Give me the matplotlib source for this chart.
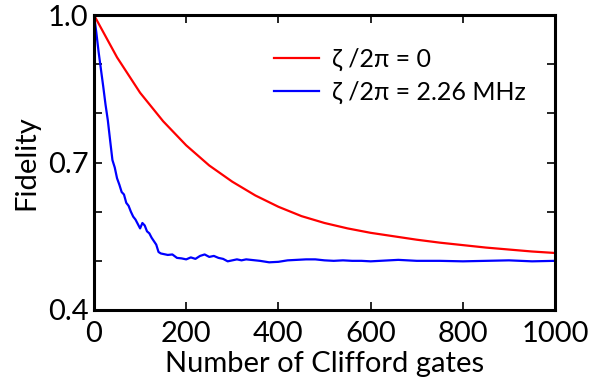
import matplotlib
matplotlib.use("Agg")
import matplotlib.pyplot as plt

plt.rcParams['font.family'] = ['Lato', 'DejaVu Sans']

red_n = [0, 50, 100, 150, 200, 250, 300, 350, 400, 450, 500, 550, 600, 650,
         700, 750, 800, 850, 900, 950, 1000]
red_f = [1.000, 0.914, 0.842, 0.784, 0.735, 0.694, 0.661, 0.633, 0.610, 0.591,
         0.577, 0.566, 0.557, 0.550, 0.543, 0.537, 0.532, 0.527, 0.523, 0.519, 0.516]

blue_n = [0, 5, 10, 15, 20, 25, 30, 35, 40, 45, 50, 55, 60, 65, 70, 75, 80, 85, 90,
          95, 100, 105, 110, 115, 120, 125, 130, 135, 140, 145, 150, 160, 170, 180,
          190, 200, 210, 220, 230, 240, 250, 260, 270, 280, 290, 300, 310, 320, 330,
          340, 360, 380, 400, 420, 440, 460, 480, 500, 520, 540, 560, 580, 600, 620,
          640, 660, 680, 700, 750, 800, 850, 900, 950, 1000]
blue_f = [1.000, 0.965, 0.925, 0.890, 0.855, 0.818, 0.786, 0.745, 0.705, 0.690,
          0.668, 0.655, 0.640, 0.635, 0.618, 0.612, 0.600, 0.590, 0.584, 0.575,
          0.566, 0.577, 0.572, 0.560, 0.556, 0.547, 0.540, 0.533, 0.518, 0.515,
          0.514, 0.512, 0.513, 0.506, 0.505, 0.503, 0.507, 0.504, 0.510, 0.513,
          0.508, 0.510, 0.506, 0.504, 0.499, 0.501, 0.503, 0.501, 0.503, 0.502,
          0.500, 0.497, 0.498, 0.501, 0.502, 0.503, 0.503, 0.501, 0.500, 0.501,
          0.500, 0.500, 0.499, 0.500, 0.501, 0.502, 0.501, 0.500, 0.500, 0.499,
          0.500, 0.501, 0.499, 0.500]

x_ticks = [0, 200, 400, 600, 800, 1000]
y_ticks = [0.4, 0.5, 0.6, 0.7, 0.8, 0.9, 1.0]
y_labels = ['0.4', '', '', '0.7', '', '', '1.0']
labels = ['ζ /2π = 0', 'ζ /2π = 2.26 MHz']

fig = plt.figure(figsize=(5.93, 3.82), dpi=100)
ax = fig.add_axes([0.1585, 0.1885, 0.7775, 0.772])
ax.plot(red_n, red_f, color='#ff0000', lw=1.6, label=labels[0])
ax.plot(blue_n, blue_f, color='#0000ff', lw=1.6, label=labels[1])

ax.set_xlim(0, 1000)
ax.set_ylim(0.4, 1.0)
ax.set_xticks(x_ticks)
ax.set_xticklabels([str(v) for v in x_ticks])
ax.set_yticks(y_ticks)
ax.set_yticklabels(y_labels)
ax.tick_params(direction='in', length=6, width=1.2, top=True, right=True,
               labelsize=21, pad=4)
ax.tick_params(axis='x', pad=8)
for s in ax.spines.values():
    s.set_linewidth(2.2)
ax.set_xlabel('Number of Clifford gates', fontsize=21, labelpad=3)
ax.set_ylabel('Fidelity', fontsize=21, labelpad=6)

ax.legend(loc='upper right', bbox_to_anchor=(0.985, 0.965), frameon=False,
          fontsize=18, handlelength=1.8, handletextpad=0.5, labelspacing=0.4)

fig.savefig('out.png', dpi=100)
